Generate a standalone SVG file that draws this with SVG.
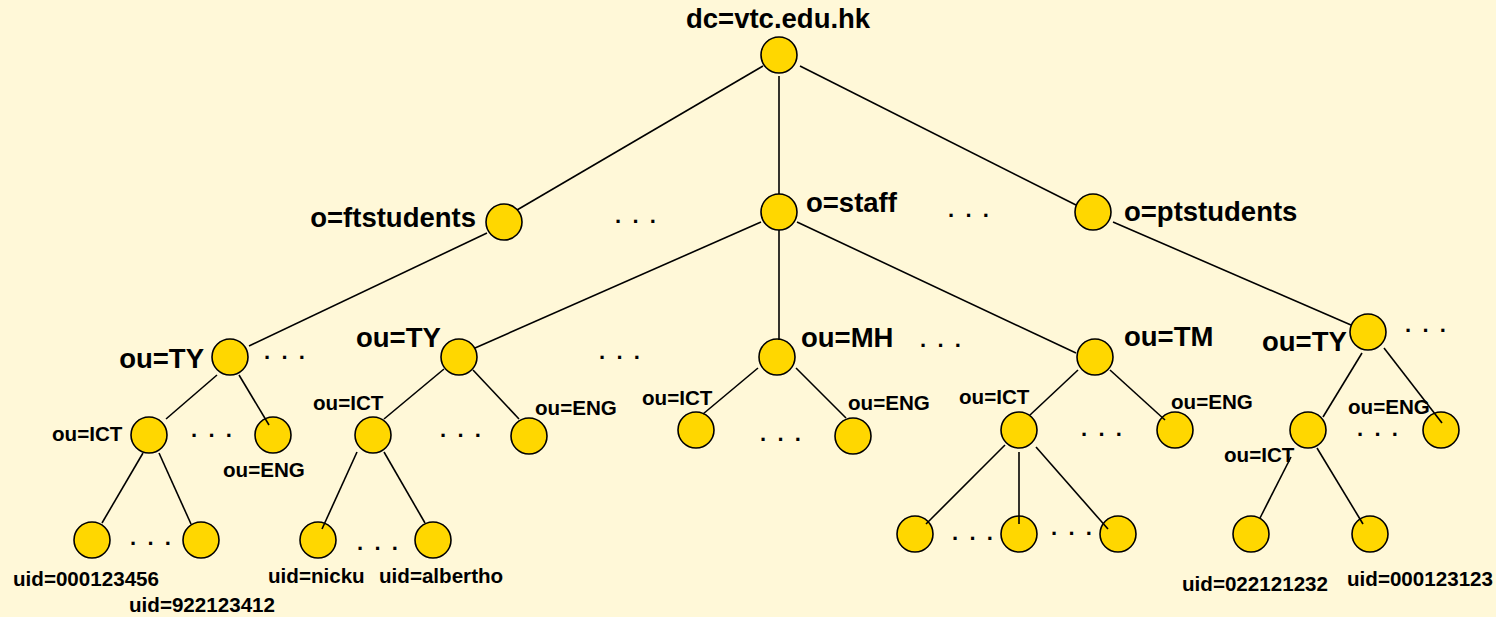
<svg xmlns="http://www.w3.org/2000/svg" width="1496" height="617" viewBox="0 0 1496 617">
<style>
.n{fill:#FFD700;stroke:#000;stroke-width:1.6}
.c line{stroke:#000;stroke-width:1.6}
text{font-family:"Liberation Sans",Arial,sans-serif;font-weight:bold;fill:#000}
.b{font-size:27.5px}
.s{font-size:20.6px}
.d{font-size:22px;letter-spacing:2.6px}
</style>
<rect width="1496" height="617" fill="#FFF8D8"/>
<g id="root"><circle class="n" cx="779" cy="55" r="18"/><text class="b" x="686" y="28">dc=vtc.edu.hk</text></g>
<g id="ftstudents"><circle class="n" cx="504" cy="222" r="18"/><text class="b" x="476" y="227" text-anchor="end">o=ftstudents</text></g>
<g id="staff"><circle class="n" cx="779" cy="212" r="18"/><text class="b" x="806" y="212">o=staff</text></g>
<g id="ptstudents"><circle class="n" cx="1093" cy="212" r="18"/><text class="b" x="1124" y="221">o=ptstudents</text></g>
<g id="ty1"><circle class="n" cx="230" cy="357" r="18"/><text class="b" x="204" y="368" text-anchor="end">ou=TY</text></g>
<g id="ty2"><circle class="n" cx="459" cy="357" r="18"/><text class="b" x="356" y="347">ou=TY</text></g>
<g id="mh"><circle class="n" cx="777" cy="357" r="18"/><text class="b" x="801" y="347">ou=MH</text></g>
<g id="tm"><circle class="n" cx="1095" cy="357" r="18"/><text class="b" x="1124" y="346">ou=TM</text></g>
<g id="ty3"><circle class="n" cx="1368" cy="332" r="18"/><text class="b" x="1262" y="351">ou=TY</text></g>
<g id="ict1"><circle class="n" cx="149" cy="435" r="18"/><text class="s" x="52" y="441">ou=ICT</text></g>
<g id="eng1"><circle class="n" cx="273" cy="435" r="18"/><text class="s" x="223" y="477">ou=ENG</text></g>
<g id="ict2"><circle class="n" cx="373" cy="435" r="18"/><text class="s" x="313" y="410">ou=ICT</text></g>
<g id="eng2"><circle class="n" cx="529" cy="436" r="18"/><text class="s" x="535" y="415">ou=ENG</text></g>
<g id="ict3"><circle class="n" cx="696" cy="430" r="18"/><text class="s" x="642" y="405">ou=ICT</text></g>
<g id="eng3"><circle class="n" cx="853" cy="436" r="18"/><text class="s" x="848" y="410">ou=ENG</text></g>
<g id="ict4"><circle class="n" cx="1019" cy="430" r="18"/><text class="s" x="959" y="404">ou=ICT</text></g>
<g id="eng4"><circle class="n" cx="1175" cy="430" r="18"/><text class="s" x="1171" y="409">ou=ENG</text></g>
<g id="ict5"><circle class="n" cx="1308" cy="430" r="18"/><text class="s" x="1224" y="462">ou=ICT</text></g>
<g id="eng5"><circle class="n" cx="1441" cy="430" r="18"/><text class="s" x="1348" y="414">ou=ENG</text></g>
<g id="uid1"><circle class="n" cx="92" cy="540" r="18"/><text class="s" x="13" y="586">uid=000123456</text></g>
<g id="uid2"><circle class="n" cx="201" cy="540" r="18"/><text class="s" x="129" y="612">uid=922123412</text></g>
<g id="uid3"><circle class="n" cx="318" cy="540" r="18"/><text class="s" x="268" y="583">uid=nicku</text></g>
<g id="uid4"><circle class="n" cx="433" cy="540" r="18"/><text class="s" x="379" y="583">uid=albertho</text></g>
<g id="tmleaf1"><circle class="n" cx="915" cy="534" r="18"/></g>
<g id="tmleaf2"><circle class="n" cx="1019" cy="534" r="18"/></g>
<g id="tmleaf3"><circle class="n" cx="1118" cy="534" r="18"/></g>
<g id="uid5"><circle class="n" cx="1251" cy="534" r="18"/><text class="s" x="1182" y="591">uid=022121232</text></g>
<g id="uid6"><circle class="n" cx="1370" cy="534" r="18"/><text class="s" x="1347" y="586">uid=000123123</text></g>
<g id="ellipses">
<text class="d" x="615" y="223">. . .</text>
<text class="d" x="948" y="217">. . .</text>
<text class="d" x="264" y="359">. . .</text>
<text class="d" x="191" y="437">. . .</text>
<text class="d" x="130" y="545">. . .</text>
<text class="d" x="357" y="550">. . .</text>
<text class="d" x="440" y="437">. . .</text>
<text class="d" x="599" y="359">. . .</text>
<text class="d" x="760" y="441">. . .</text>
<text class="d" x="920" y="347">. . .</text>
<text class="d" x="1081" y="436">. . .</text>
<text class="d" x="952" y="540">. . .</text>
<text class="d" x="1051" y="535">. . .</text>
<text class="d" x="1405" y="332">. . .</text>
<text class="d" x="1357" y="436">. . .</text>
</g>
<g id="connectors" class="c">
<line x1="763" y1="66" x2="517" y2="210"/>
<line x1="779" y1="76" x2="779" y2="194"/>
<line x1="800" y1="66" x2="1076" y2="205"/>
<line x1="487" y1="233" x2="249" y2="346"/>
<line x1="761" y1="222" x2="475" y2="348"/>
<line x1="779" y1="230" x2="779" y2="340"/>
<line x1="797" y1="222" x2="1076" y2="353"/>
<line x1="1113" y1="222" x2="1351" y2="325"/>
<line x1="217" y1="375" x2="166" y2="419"/>
<line x1="239" y1="375" x2="269" y2="425"/>
<line x1="143" y1="453" x2="102" y2="523"/>
<line x1="159" y1="453" x2="191" y2="524"/>
<line x1="444" y1="369" x2="384" y2="419"/>
<line x1="473" y1="370" x2="519" y2="419"/>
<line x1="357" y1="452" x2="322" y2="529"/>
<line x1="384" y1="452" x2="425" y2="523"/>
<line x1="758" y1="368" x2="703" y2="414"/>
<line x1="796" y1="368" x2="846" y2="418"/>
<line x1="1078" y1="370" x2="1030" y2="415"/>
<line x1="1110" y1="370" x2="1165" y2="420"/>
<line x1="1005" y1="445" x2="926" y2="524"/>
<line x1="1019" y1="452" x2="1019" y2="524"/>
<line x1="1036" y1="447" x2="1108" y2="529"/>
<line x1="1362" y1="353" x2="1323" y2="417"/>
<line x1="1384" y1="348" x2="1442" y2="423"/>
<line x1="1291" y1="457" x2="1260" y2="518"/>
<line x1="1317" y1="448" x2="1363" y2="524"/>
</g>
</svg>
